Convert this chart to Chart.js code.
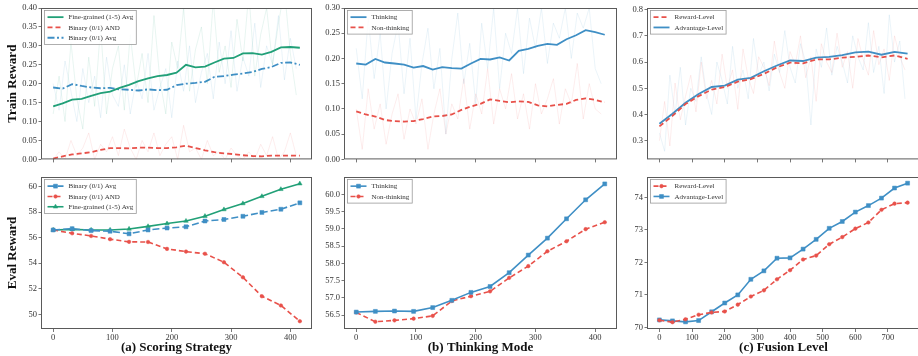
<!DOCTYPE html>
<html>
<head>
<meta charset="utf-8">
<script src="https://cdn.jsdelivr.net/npm/chart.js@4.4.0/dist/chart.umd.min.js"></script>
<style>
  body { margin: 0; background: #fff; width: 918px; height: 356px; overflow: hidden; position: relative; }
  canvas { position: absolute; }
</style>
</head>
<body>
<canvas id="trainScoring"></canvas>
<canvas id="trainThinking"></canvas>
<canvas id="trainFusion"></canvas>
<canvas id="evalScoring"></canvas>
<canvas id="evalThinking"></canvas>
<canvas id="evalFusion"></canvas>
<script>
// ---- data ----
const trainSteps = [0,16,32,48,64,80,96,112,128,144,160,176,192,208,224,240,256,272,288,304,320,336,352,368,384,400,416];
const rawSteps = [0,10,20,30,40,50,60,70,80,90,100,110,120,130,140,150,160,170,180,190,200,210,220,230,240,250,260,270,280,290,300,310,320,330,340,350,360,370,380,390,400,410];
const fusionTrainSteps = [0,40,80,120,160,200,240,280,320,360,400,440,480,520,560,600,640,680,720,760];
const fusionRawSteps = [0,16,32,48,64,80,96,112,128,144,160,176,192,208,224,240,256,272,288,304,320,336,352,368,384,400,416,432,448,464,480,496,512,528,544,560,576,592,608,624,640,656,672,688,704,720,736,752];
const evalSteps = [0,32,64,96,128,160,192,224,256,288,320,352,384,416];
const fusionEvalSteps = [0,40,80,120,160,200,240,280,320,360,400,440,480,520,560,600,640,680,720,760];

// (a) scoring strategy - train (smoothed)
const fineTrain = [0.140,0.148,0.158,0.160,0.168,0.175,0.179,0.189,0.197,0.207,0.214,0.220,0.223,0.229,0.250,0.243,0.245,0.256,0.266,0.268,0.280,0.281,0.277,0.284,0.296,0.297,0.295];
const andTrain = [0.002,0.008,0.013,0.016,0.019,0.025,0.030,0.030,0.029,0.031,0.031,0.030,0.030,0.032,0.036,0.030,0.024,0.019,0.016,0.014,0.011,0.009,0.008,0.010,0.010,0.010,0.010];
const avgTrain = [0.190,0.187,0.199,0.194,0.190,0.188,0.189,0.185,0.184,0.182,0.185,0.183,0.184,0.196,0.200,0.202,0.205,0.218,0.220,0.224,0.227,0.231,0.239,0.244,0.255,0.256,0.250];
// raw per-step rewards (faint)
const fineRaw = [0.12,0.22,0.10,0.31,0.16,0.08,0.27,0.14,0.35,0.12,0.24,0.30,0.13,0.33,0.19,0.28,0.15,0.38,0.21,0.12,0.31,0.24,0.40,0.18,0.29,0.35,0.20,0.42,0.23,0.30,0.19,0.37,0.26,0.44,0.22,0.33,0.40,0.25,0.36,0.45,0.28,0.17];
const andRaw = [0.00,0.02,0.00,0.05,0.01,0.03,0.07,0.00,0.04,0.02,0.06,0.01,0.08,0.03,0.00,0.05,0.02,0.07,0.01,0.04,0.06,0.00,0.09,0.02,0.03,0.00,0.05,0.01,0.02,0.00,0.03,0.01,0.00,0.02,0.00,0.04,0.01,0.06,0.00,0.02,0.07,0.01];
const avgRaw = [0.20,0.13,0.26,0.18,0.10,0.24,0.15,0.22,0.11,0.27,0.17,0.14,0.25,0.12,0.21,0.16,0.28,0.13,0.19,0.24,0.11,0.26,0.18,0.30,0.15,0.23,0.28,0.16,0.31,0.20,0.34,0.18,0.27,0.22,0.36,0.19,0.30,0.25,0.38,0.21,0.32,0.24];

// (b) thinking mode - train
const thinkTrain = [0.190,0.188,0.199,0.192,0.190,0.188,0.182,0.185,0.178,0.183,0.181,0.180,0.190,0.199,0.198,0.202,0.196,0.215,0.219,0.225,0.229,0.227,0.238,0.246,0.256,0.252,0.247];
const nonThinkTrain = [0.095,0.089,0.085,0.078,0.076,0.075,0.076,0.080,0.085,0.086,0.089,0.098,0.105,0.110,0.119,0.116,0.113,0.115,0.114,0.107,0.105,0.108,0.110,0.118,0.121,0.118,0.113];
const thinkRaw = [0.22,0.12,0.28,0.16,0.25,0.10,0.21,0.27,0.13,0.24,0.08,0.19,0.26,0.14,0.22,0.05,0.20,0.29,0.15,0.23,0.11,0.27,0.18,0.30,0.14,0.25,0.21,0.30,0.17,0.28,0.22,0.30,0.19,0.27,0.24,0.30,0.20,0.29,0.26,0.30,0.18,0.15];
const nonThinkRaw = [0.10,0.02,0.14,0.06,0.11,0.03,0.09,0.13,0.04,0.10,0.07,0.12,0.02,0.09,0.14,0.05,0.11,0.08,0.16,0.06,0.13,0.09,0.18,0.07,0.14,0.10,0.17,0.08,0.13,0.06,0.15,0.09,0.12,0.16,0.07,0.14,0.11,0.19,0.08,0.15,0.10,0.09];

// (c) fusion level - train
const advTrain = [0.365,0.403,0.445,0.478,0.505,0.510,0.533,0.540,0.565,0.587,0.606,0.604,0.617,0.620,0.626,0.637,0.640,0.628,0.639,0.632];
const rewTrain = [0.355,0.395,0.440,0.470,0.495,0.505,0.525,0.535,0.555,0.580,0.598,0.595,0.610,0.610,0.617,0.620,0.625,0.618,0.625,0.612];
const advRaw = [0.33,0.26,0.55,0.40,0.58,0.36,0.50,0.45,0.62,0.48,0.40,0.60,0.53,0.44,0.66,0.50,0.57,0.46,0.69,0.55,0.60,0.49,0.63,0.56,0.72,0.58,0.52,0.67,0.60,0.36,0.65,0.58,0.73,0.55,0.66,0.60,0.52,0.70,0.62,0.57,0.75,0.56,0.66,0.48,0.78,0.60,0.68,0.46];
const rewRaw = [0.30,0.45,0.28,0.52,0.38,0.47,0.55,0.41,0.60,0.46,0.53,0.44,0.63,0.50,0.57,0.42,0.65,0.54,0.48,0.62,0.58,0.51,0.68,0.56,0.50,0.64,0.59,0.70,0.54,0.62,0.45,0.67,0.60,0.56,0.71,0.58,0.64,0.50,0.69,0.61,0.55,0.72,0.59,0.65,0.53,0.70,0.62,0.57];

// eval rewards
const avgEval = [56.60,56.70,56.55,56.50,56.30,56.60,56.75,56.85,57.30,57.42,57.67,57.97,58.22,58.72];
const andEval = [56.60,56.34,56.13,55.88,55.67,55.66,55.12,54.91,54.74,54.08,52.90,51.42,50.70,49.47];
const fineEval = [56.60,56.65,56.60,56.60,56.68,56.88,57.10,57.30,57.68,58.20,58.67,59.23,59.78,60.22];
const thinkEval = [56.59,56.61,56.62,56.61,56.72,56.93,57.16,57.33,57.73,58.24,58.73,59.29,59.84,60.30];
const nonThinkEval = [56.58,56.31,56.35,56.40,56.48,56.91,57.05,57.19,57.58,57.92,58.35,58.64,58.99,59.19];
const advEval = [70.23,70.20,70.17,70.21,70.48,70.75,71.00,71.48,71.74,72.13,72.14,72.41,72.71,73.05,73.26,73.55,73.75,73.98,74.29,74.44];
const rewEval = [70.22,70.16,70.25,70.39,70.46,70.49,70.70,70.95,71.14,71.48,71.76,72.09,72.21,72.56,72.78,73.04,73.23,73.62,73.81,73.84];

// tick labels
const stepTicks = ['0','100','200','300','400'];
const fusionStepTicks = ['0','100','200','300','400','500','600','700'];
const scoringTrainTicks = ['0.00','0.05','0.10','0.15','0.20','0.25','0.30','0.35','0.40'];
const thinkingTrainTicks = ['0.00','0.05','0.10','0.15','0.20','0.25','0.30'];
const fusionTrainTicks = ['0.3','0.4','0.5','0.6','0.7','0.8'];
const scoringEvalTicks = ['50','52','54','56','58','60'];
const thinkingEvalTicks = ['56.5','57.0','57.5','58.0','58.5','59.0','59.5','60.0'];
const fusionEvalTicks = ['70','71','72','73','74'];

// ---- style ----
const GREEN = '#21a077', RED = '#e8514a', BLUE = '#3f8fc5';
const FONT = '"Liberation Serif", "Times New Roman", serif';
Chart.defaults.font.family = FONT;
Chart.defaults.color = '#333';

function pts(xs, ys) {
    return xs.map((x, i) => ({ x: x, y: ys[i] }));
}

function fade(hex, a) {
    const n = parseInt(hex.slice(1), 16);
    return `rgba(${n >> 16},${(n >> 8) & 255},${n & 255},${a})`;
}

function series(label, xs, ys, color, opt = {}) {
    return {
        label: label,
        data: pts(xs, ys),
        borderColor: color,
        backgroundColor: color,
        pointBackgroundColor: color,
        pointBorderColor: color,
        borderWidth: opt.width || 1.8,
        borderDash: opt.dash || [],
        pointStyle: opt.marker || 'circle',
        pointRadius: opt.radius || 0,
        pointBorderWidth: 0.5,
        tension: 0,
        inLegend: true
    };
}

function raw(xs, ys, color) {
    return {
        data: pts(xs, ys),
        borderColor: fade(color, 0.13),
        borderWidth: 0.8,
        pointRadius: 0,
        tension: 0,
        inLegend: false
    };
}

// frame + legend box + titles
const panelDecor = {
    id: 'panelDecor',
    afterDraw(chart) {
        const ctx = chart.ctx, a = chart.chartArea;
        const cfg = chart.options.plugins.panelDecor || {};
        ctx.save();
        ctx.strokeStyle = '#5a5a5a';
        ctx.lineWidth = 1;
        ctx.strokeRect(a.left + 0.5, a.top + 0.5, a.right - a.left - 1, a.bottom - a.top - 1);

        // legend
        const items = chart.data.datasets.filter(d => d.inLegend);
        ctx.font = '7px ' + FONT;
        const rowH = 10.3;
        const textW = Math.max(...items.map(d => ctx.measureText(d.label).width));
        const x0 = a.left + 3.5, y0 = a.top + 2.5;
        const w = 24 + textW + 3, h = items.length * rowH + 3;
        ctx.fillStyle = 'rgba(255,255,255,0.85)';
        ctx.fillRect(x0, y0, w, h);
        ctx.strokeStyle = '#9a9a9a';
        ctx.lineWidth = 0.8;
        ctx.strokeRect(x0, y0, w, h);
        items.forEach((d, i) => {
            const y = y0 + 1.5 + rowH * (i + 0.5);
            ctx.strokeStyle = d.borderColor;
            ctx.lineWidth = d.borderWidth;
            ctx.setLineDash(d.borderDash);
            ctx.beginPath();
            ctx.moveTo(x0 + 3, y);
            ctx.lineTo(x0 + 19, y);
            ctx.stroke();
            ctx.setLineDash([]);
            if (d.pointRadius > 0) {
                ctx.fillStyle = d.borderColor;
                ctx.lineWidth = 0.5;
                Chart.helpers.drawPoint(ctx, { pointStyle: d.pointStyle, radius: d.pointRadius, borderWidth: 0.5, rotation: 0 }, x0 + 11, y);
            }
            ctx.fillStyle = '#333';
            ctx.textAlign = 'left';
            ctx.textBaseline = 'middle';
            ctx.fillText(d.label, x0 + 24, y + 0.5);
        });

        // axis titles
        ctx.fillStyle = '#111';
        ctx.font = 'bold 13px ' + FONT;
        ctx.textAlign = 'center';
        ctx.textBaseline = 'middle';
        if (cfg.yTitle) {
            ctx.save();
            ctx.translate(12.5, (a.top + a.bottom) / 2);
            ctx.rotate(-Math.PI / 2);
            ctx.fillText(cfg.yTitle, 0, 0);
            ctx.restore();
        }
        if (cfg.xTitle) {
            ctx.fillText(cfg.xTitle, (a.left + a.right) / 2, cfg.xTitleY);
        }
        ctx.restore();
    }
};

function axis(c, size, dir) {
    return {
        type: 'linear',
        position: dir === 'x' ? 'bottom' : 'left',
        min: c.min,
        max: c.max,
        bounds: 'data',
        afterBuildTicks: s => { s.ticks = c.ticks.map(t => ({ value: parseFloat(t) })); },
        afterFit: s => { if (dir === 'x') s.height = size; else s.width = size; },
        ticks: {
            callback: (v, i) => c.hideLabels ? '' : c.ticks[i],
            font: { size: 8.5 },
            color: '#333',
            padding: dir === 'x' ? 1 : 1.5,
            autoSkip: false,
            maxRotation: 0
        },
        grid: { drawOnChartArea: false, drawTicks: true, tickLength: dir === 'x' ? 3 : 2.5, color: '#555', lineWidth: 0.8 },
        border: { display: false }
    };
}

function makePanel(id, box, datasets, xc, yc, decor) {
    const cv = document.getElementById(id);
    cv.width = box.w;
    cv.height = box.h;
    cv.style.left = box.x + 'px';
    cv.style.top = box.y + 'px';
    new Chart(cv, {
        type: 'line',
        data: { datasets: datasets },
        options: {
            responsive: false,
            animation: false,
            devicePixelRatio: 1,
            events: [],
            layout: { autoPadding: false, padding: { top: box.padTop, right: box.padRight, left: 0, bottom: 0 } },
            plugins: { legend: { display: false }, tooltip: { enabled: false }, panelDecor: decor },
            scales: { x: axis(xc, box.xH, 'x'), y: axis(yc, box.yW, 'y') }
        },
        plugins: [panelDecor]
    });
}

// layout boxes
const cols = [
    { x: 0, yW: 41, plotW: 271, padRight: 2 },
    { x: 314, yW: 30, plotW: 273, padRight: 2 },
    { x: 619, yW: 28, plotW: 273, padRight: 6 }
];
const rows = [
    { y: 0, padTop: 8, plotH: 154, xH: 4 },
    { y: 170, padTop: 7, plotH: 152, xH: 27 }
];
function box(r, c) {
    const R = rows[r], C = cols[c];
    return { x: C.x, y: R.y, w: C.yW + C.plotW + C.padRight, h: R.padTop + R.plotH + R.xH,
             yW: C.yW, xH: R.xH, padTop: R.padTop, padRight: C.padRight };
}

const xStep = { min: -20.5, max: 436.5, ticks: stepTicks };
const xFusion = { min: -38, max: 798, ticks: fusionStepTicks };

// top row: train reward
makePanel('trainScoring', box(0, 0), [
    raw(rawSteps, fineRaw, GREEN),
    raw(rawSteps, avgRaw, BLUE),
    raw(rawSteps, andRaw, RED),
    series('Fine-grained (1-5) Avg', trainSteps, fineTrain, GREEN),
    series('Binary (0/1) AND', trainSteps, andTrain, RED, { dash: [5, 3] }),
    series('Binary (0/1) Avg', trainSteps, avgTrain, BLUE, { dash: [7, 2.5, 2, 2.5] })
], Object.assign({ hideLabels: true }, xStep), { min: 0, max: 0.40, ticks: scoringTrainTicks },
   { yTitle: 'Train Reward' });

makePanel('trainThinking', box(0, 1), [
    raw(rawSteps, thinkRaw, BLUE),
    raw(rawSteps, nonThinkRaw, RED),
    series('Thinking', trainSteps, thinkTrain, BLUE),
    series('Non-thinking', trainSteps, nonThinkTrain, RED, { dash: [5, 3] })
], Object.assign({ hideLabels: true }, xStep), { min: 0, max: 0.30, ticks: thinkingTrainTicks }, {});

makePanel('trainFusion', box(0, 2), [
    raw(fusionRawSteps, advRaw, BLUE),
    raw(fusionRawSteps, rewRaw, RED),
    series('Reward-Level', fusionTrainSteps, rewTrain, RED, { dash: [5, 3] }),
    series('Advantage-Level', fusionTrainSteps, advTrain, BLUE)
], Object.assign({ hideLabels: true }, xFusion), { min: 0.229, max: 0.806, ticks: fusionTrainTicks }, {});

// bottom row: eval reward
makePanel('evalScoring', box(1, 0), [
    series('Binary (0/1) Avg', evalSteps, avgEval, BLUE, { dash: [7, 3], marker: 'rect', radius: 2.8, width: 1.6 }),
    series('Binary (0/1) AND', evalSteps, andEval, RED, { dash: [5, 3], marker: 'circle', radius: 1.8, width: 1.6 }),
    series('Fine-grained (1-5) Avg', evalSteps, fineEval, GREEN, { marker: 'triangle', radius: 2.6, width: 1.6 })
], xStep, { min: 48.86, max: 60.74, ticks: scoringEvalTicks },
   { yTitle: 'Eval Reward', xTitle: '(a) Scoring Strategy', xTitleY: 178 });

makePanel('evalThinking', box(1, 1), [
    series('Thinking', evalSteps, thinkEval, BLUE, { marker: 'rect', radius: 2.8, width: 1.6 }),
    series('Non-thinking', evalSteps, nonThinkEval, RED, { dash: [5, 3], marker: 'circle', radius: 1.8, width: 1.6 })
], xStep, { min: 56.1, max: 60.5, ticks: thinkingEvalTicks },
   { xTitle: '(b) Thinking Mode', xTitleY: 178 });

makePanel('evalFusion', box(1, 2), [
    series('Reward-Level', fusionEvalSteps, rewEval, RED, { dash: [5, 3], marker: 'circle', radius: 1.8, width: 1.6 }),
    series('Advantage-Level', fusionEvalSteps, advEval, BLUE, { marker: 'rect', radius: 2.8, width: 1.6 })
], xFusion, { min: 69.95, max: 74.63, ticks: fusionEvalTicks },
   { xTitle: '(c) Fusion Level', xTitleY: 178 });
</script>
</body>
</html>
